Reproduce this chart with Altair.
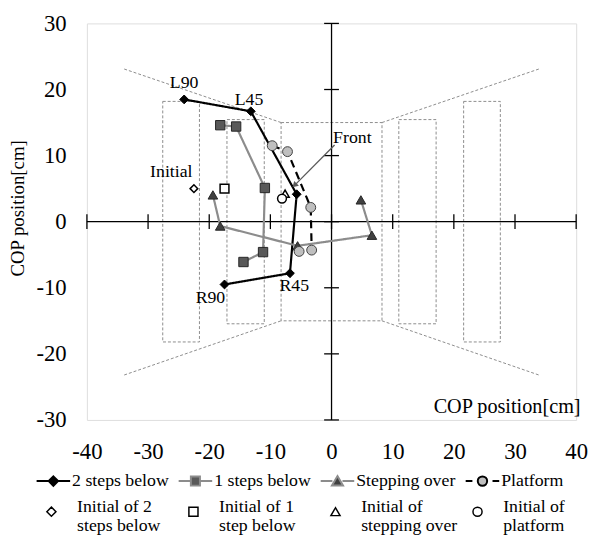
import altair as alt
import pandas as pd

# ---------------- data ----------------
stages = ["L90", "L45", "Front", "R45", "R90"]
series_names = ["2 steps below", "1 steps below", "Stepping over", "Platform"]

two_steps_x = [-24.1, -13.2, -5.7, -6.8, -17.5]
two_steps_y = [18.5, 16.7, 4.15, -7.8, -9.5]
one_step_x = [-18.2, -15.6, -10.9, -11.2, -14.4]
one_step_y = [14.6, 14.4, 5.1, -4.6, -6.1]
stepping_x = [-19.4, -18.2, -5.55, 6.6, 4.8]
stepping_y = [4.05, -0.66, -3.65, -2.05, 3.3]
platform_x = [-9.7, -7.2, -3.4, -3.25, -5.3]
platform_y = [11.5, 10.6, 2.16, -4.3, -4.5]

initial_names = ["Initial of 2|steps below", "Initial of 1|step below",
                 "Initial of|stepping over", "Initial of|platform"]
initial_x = [-22.5, -17.5, -7.6, -8.1]
initial_y = [5.0, 5.0, 4.25, 3.5]

x_ticks = [-40, -30, -20, -10, 0, 10, 20, 30, 40]
y_ticks = [-30, -20, -10, 0, 10, 20, 30]

# floor outline (dashed)
rect_x1 = [-27.6, -17.1, -8.25, 11.0, 21.6]
rect_x2 = [-21.6, -11.0, 8.25, 17.1, 27.6]
rect_y1 = [-18.2, -15.45, -15.0, -15.45, -18.2]
rect_y2 = [18.2, 15.45, 15.0, 15.45, 18.2]
diag_x1 = [-33.9, 8.25, -33.9, 8.25]
diag_y1 = [23.1, 15.0, -23.2, -15.0]
diag_x2 = [-8.25, 33.9, -8.25, 33.9]
diag_y2 = [15.0, 23.1, -15.0, -23.2]

# annotations
ann_text = ["L90", "L45", "Front", "R45", "R90", "Initial"]
ann_x = [-24.1, -13.5, 3.4, -6.1, -19.8, -26.2]
ann_y = [21.0, 18.4, 12.65, -9.8, -11.6, 7.5]
arrow_x = [0.5, -6.05]
arrow_y = [11.6, 5.5]

# ---------------- styles ----------------
FONT = "Liberation Serif"
point_shape = {"2 steps below": "diamond", "1 steps below": "square",
               "Stepping over": "triangle-up", "Platform": "circle"}
point_size = {"2 steps below": 80, "1 steps below": 90,
              "Stepping over": 95, "Platform": 100}
point_fill = {"2 steps below": "#000000", "1 steps below": "#595959",
              "Stepping over": "#404040", "Platform": "#bfbfbf"}
point_stroke = {"2 steps below": "#000000", "1 steps below": "#262626",
                "Stepping over": "#262626", "Platform": "#404040"}
line_color = {"2 steps below": "#000000", "1 steps below": "#8c8c8c",
              "Stepping over": "#8c8c8c", "Platform": "#000000"}
line_dash = {"2 steps below": [1, 0], "1 steps below": [1, 0],
             "Stepping over": [1, 0], "Platform": [8, 5]}

legend_paths = [
    "M-1,0H-0.28M0.28,0H1M0,-0.28L0.28,0L0,0.28L-0.28,0Z",
    "M-1,0H-0.27M0.27,0H1M-0.27,-0.27H0.27V0.27H-0.27Z",
    "M-1,0H-0.3M0.3,0H1M0,-0.3L0.33,0.26L-0.33,0.26Z",
    "M-1,0H-0.6M0.6,0H1M0.28,0A0.28,0.28,0,1,1,-0.28,0A0.28,0.28,0,1,1,0.28,0Z",
]
init_shapes = ["diamond", "square", "triangle-up", "circle"]
init_sizes = [60, 80, 70, 80]

# ---------------- tables ----------------
xs_all = [two_steps_x, one_step_x, stepping_x, platform_x]
ys_all = [two_steps_y, one_step_y, stepping_y, platform_y]
rows = []
for name, xs_, ys_ in zip(series_names, xs_all, ys_all):
    for i, (xv, yv) in enumerate(zip(xs_, ys_)):
        rows.append({"series": name, "order": i, "stage": stages[i], "x": xv, "y": yv})
df = pd.DataFrame(rows)

init_df = pd.DataFrame({"initial": initial_names, "x": initial_x, "y": initial_y})
rect_df = pd.DataFrame({"x": rect_x1, "x2": rect_x2, "y": rect_y1, "y2": rect_y2})
diag_df = pd.DataFrame({"x": diag_x1, "x2": diag_x2, "y": diag_y1, "y2": diag_y2})
ann_df = pd.DataFrame({"text": ann_text, "x": ann_x, "y": ann_y})
arrow_df = pd.DataFrame({"x": [arrow_x[0]], "y": [arrow_y[0]],
                         "x2": [arrow_x[1]], "y2": [arrow_y[1]]})
head_df = pd.DataFrame({"x": [arrow_x[1]], "y": [arrow_y[1]]})
xtick_df = pd.DataFrame({"x": x_ticks})
ytick_df = pd.DataFrame({"y": y_ticks})
xaxis_df = pd.DataFrame({"x": [min(x_ticks)], "x2": [max(x_ticks)]})
yaxis_df = pd.DataFrame({"y": [min(y_ticks)], "y2": [max(y_ticks)]})

# ---------------- scales / axes ----------------
xscale = alt.Scale(domain=[min(x_ticks), max(x_ticks)], nice=False, zero=False)
yscale = alt.Scale(domain=[min(y_ticks), max(y_ticks)], nice=False, zero=False)

x_axis = alt.Axis(values=x_ticks, domain=False, ticks=False, tickSize=0, grid=False,
                  labelFlush=False, labelFont=FONT, labelFontSize=23, labelColor="black",
                  labelPadding=21, labelExpr="'' + datum.value",
                  title="COP position[cm]", titleFont=FONT,
                  titleFontSize=20.5, titleFontWeight="normal", titleColor="black",
                  titleX=500, titleY=-8, titleAlign="right", titleBaseline="alphabetic",
                  titleAngle=0)
y_axis = alt.Axis(values=y_ticks, domain=False, ticks=False, tickSize=0, grid=False,
                  labelFlush=False, labelFont=FONT, labelFontSize=23, labelColor="black",
                  labelPadding=21, labelExpr="'' + datum.value",
                  title="COP position[cm]", titleFont=FONT,
                  titleFontSize=19, titleFontWeight="normal", titleColor="black",
                  titleX=-64, titleY=187, titleAlign="center", titleBaseline="alphabetic",
                  titleAngle=270)


def X(field="x"):
    return alt.X(f"{field}:Q", scale=xscale, axis=x_axis)


def Y(field="y"):
    return alt.Y(f"{field}:Q", scale=yscale, axis=y_axis)


layers = []

# dashed floor outline
layers.append(alt.Chart(rect_df).mark_rect(fillOpacity=0, stroke="#8c8c8c", strokeWidth=1,
                                           strokeDash=[3, 2]).encode(
    x=X(), x2="x2:Q", y=Y(), y2="y2:Q"))
layers.append(alt.Chart(diag_df).mark_rule(color="#8c8c8c", strokeWidth=1,
                                           strokeDash=[3, 2]).encode(
    x=X(), x2="x2:Q", y=Y(), y2="y2:Q"))

# axes through the origin
layers.append(alt.Chart(xaxis_df).mark_rule(color="black", strokeWidth=1.3).encode(
    x=X(), x2="x2:Q", y=alt.Y(datum=0, scale=yscale, axis=y_axis)))
layers.append(alt.Chart(yaxis_df).mark_rule(color="black", strokeWidth=1.3).encode(
    y=Y(), y2="y2:Q", x=alt.X(datum=0, scale=xscale, axis=x_axis)))
layers.append(alt.Chart(xtick_df).mark_tick(orient="vertical", size=15, thickness=1.3,
                                            color="black", opacity=1).encode(
    x=X(), y=alt.Y(datum=0, scale=yscale, axis=y_axis)))
layers.append(alt.Chart(ytick_df).mark_tick(orient="horizontal", size=15, thickness=1.3,
                                            color="black", opacity=1).encode(
    y=Y(), x=alt.X(datum=0, scale=xscale, axis=x_axis)))

# series lines
for name in series_names:
    layers.append(alt.Chart(df).transform_filter(alt.datum.series == name).mark_line(
        color=line_color[name], strokeWidth=2.2, strokeDash=line_dash[name]).encode(
        x=X(), y=Y(), order=alt.Order("order:Q")))

# series markers
for name in series_names:
    layers.append(alt.Chart(df).transform_filter(alt.datum.series == name).mark_point(
        shape=point_shape[name], size=point_size[name], filled=True, fill=point_fill[name],
        stroke=point_stroke[name], strokeWidth=1, opacity=1).encode(x=X(), y=Y()))

# initial markers
for i, nm in enumerate(initial_names):
    layers.append(alt.Chart(init_df).transform_filter(alt.datum.initial == nm).mark_point(
        shape=init_shapes[i], size=init_sizes[i], fill="white", stroke="black",
        strokeWidth=1.5, opacity=1).encode(x=X(), y=Y()))

# annotations
layers.append(alt.Chart(ann_df).mark_text(font=FONT, fontSize=18, color="black",
                                          align="center", baseline="middle").encode(
    x=X(), y=Y(), text="text:N"))
layers.append(alt.Chart(arrow_df).mark_rule(color="#595959", strokeWidth=1.3).encode(
    x=X(), x2="x2:Q", y=Y(), y2="y2:Q"))
layers.append(alt.Chart(head_df).mark_point(shape="triangle-up", angle=225, size=45,
                                            filled=True, color="#595959", opacity=1).encode(
    x=X(), y=Y()))

# legend 1 (series): one merged legend from shape + fill + stroke
leg1 = alt.Legend(title=None, orient="none", legendX=-52, legendY=446,
                  direction="horizontal", columns=4, columnPadding=6, gridAlign="each",
                  symbolSize=1156, symbolStrokeWidth=2, labelOffset=1, labelFont=FONT,
                  labelFontSize=18, labelColor="black", labelLimit=300, padding=0)
layers.append(alt.Chart(pd.DataFrame({"series": series_names})).transform_filter(
    "false").mark_point(opacity=1, strokeWidth=2, filled=True).encode(
    shape=alt.Shape("series:N", scale=alt.Scale(domain=series_names, range=legend_paths),
                    legend=leg1),
    fill=alt.Fill("series:N", scale=alt.Scale(domain=series_names,
                                              range=[point_fill[n] for n in series_names]),
                  legend=leg1),
    stroke=alt.Stroke("series:N", scale=alt.Scale(domain=series_names,
                                                  range=[line_color[n] for n in series_names]),
                      legend=leg1)))

# legend 2 (initial positions)
leg2 = alt.Legend(title=None, orient="none", legendX=-45, legendY=486,
                  direction="horizontal", columns=4, columnPadding=11, gridAlign="all",
                  symbolSize=85, symbolStrokeWidth=1.5, labelOffset=17, labelFont=FONT,
                  labelFontSize=18, labelColor="black", labelLimit=300,
                  labelExpr="split(datum.label, '|')", labelBaseline="alphabetic",
                  padding=0)
layers.append(alt.Chart(init_df).transform_filter("false").mark_point(
    strokeWidth=1.5, opacity=1, filled=True).encode(
    shape=alt.Shape("initial:N", scale=alt.Scale(domain=initial_names, range=init_shapes),
                    legend=leg2),
    fill=alt.Fill("initial:N", scale=alt.Scale(domain=initial_names,
                                               range=["white"] * 4), legend=leg2),
    stroke=alt.Stroke("initial:N", scale=alt.Scale(domain=initial_names,
                                                   range=["black"] * 4), legend=leg2)))

chart = alt.layer(*layers).resolve_scale(
    shape="independent", fill="independent", stroke="independent"
).properties(
    width=496, height=402,
    autosize=alt.AutoSizeParams(type="none"),
    padding={"left": 80, "top": 12, "right": 12, "bottom": 113},
).configure_view(strokeWidth=0).configure(font=FONT).configure_axis(
    labelFont=FONT, titleFont=FONT
).configure_legend(labelFont=FONT)

chart.save("out.html", embed_options={"renderer": "svg", "actions": False})
